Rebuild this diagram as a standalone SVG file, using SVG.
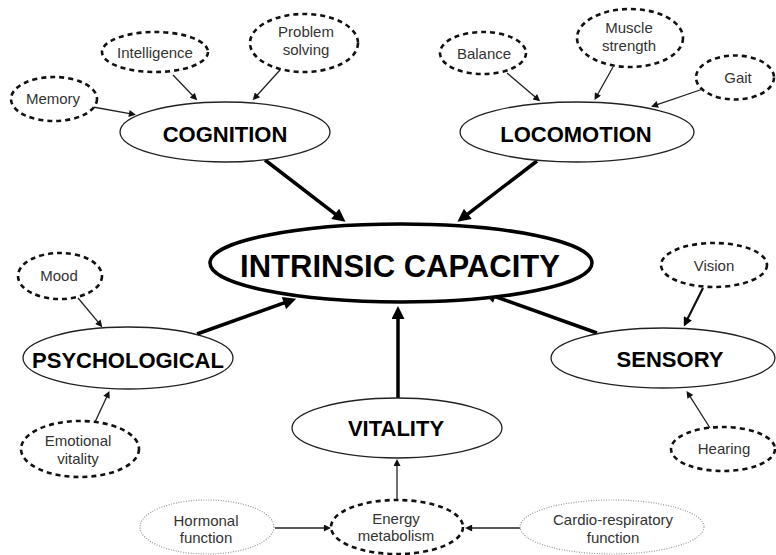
<svg xmlns="http://www.w3.org/2000/svg" width="776" height="555" viewBox="0 0 776 555">
<style>
  .bg{fill:#fff}
  .main{fill:#fff;stroke:#222;stroke-width:1.3}
  .core{fill:#fff;stroke:#000;stroke-width:3.5}
  .sub{fill:#fff;stroke:#111;stroke-width:2.6;stroke-dasharray:5 4}
  .dot{fill:#fff;stroke:#999;stroke-width:1.2;stroke-dasharray:1 1.5}
  .big{font-family:"Liberation Sans",Arial,sans-serif;font-weight:bold;font-size:22px;fill:#000;text-anchor:middle}
  .core-t{font-family:"Liberation Sans",Arial,sans-serif;font-weight:bold;font-size:31px;fill:#000;text-anchor:middle}
  .sm{font-family:"Liberation Sans",Arial,sans-serif;font-size:15px;fill:#333;text-anchor:middle}
  .thin{stroke:#222;stroke-width:1.3;fill:none}
  .med{stroke:#111;stroke-width:2.2;fill:none}
  .thick{stroke:#000;stroke-width:3.5;fill:none}
</style>
<defs>
  <marker id="ah" viewBox="0 0 10 10" markerWidth="9" markerHeight="7" refX="3" refY="5" orient="auto" markerUnits="userSpaceOnUse"><path d="M0,0 L10,5 L0,10 z" fill="#111"/></marker>
  <marker id="ahM" viewBox="0 0 10 10" markerWidth="11" markerHeight="9" refX="3" refY="5" orient="auto" markerUnits="userSpaceOnUse"><path d="M0,0 L10,5 L0,10 z" fill="#000"/></marker>
  <marker id="ahT" viewBox="0 0 10 10" markerWidth="16" markerHeight="13" refX="3" refY="5" orient="auto" markerUnits="userSpaceOnUse"><path d="M0,0 L10,5 L0,10 z" fill="#000"/></marker>
</defs>
<rect class="bg" x="0" y="0" width="776" height="555"/>

<g id="connectors">
  <line class="thick" x1="265" y1="160" x2="338.3" y2="216.3" marker-end="url(#ahT)"/>
  <line class="thick" x1="537" y1="161" x2="464.7" y2="216.3" marker-end="url(#ahT)"/>
  <line class="thick" x1="197" y1="334" x2="287.6" y2="301.7" marker-end="url(#ahT)"/>
  <line class="thick" x1="597" y1="333" x2="491.6" y2="295.3" marker-end="url(#ahT)"/>
  <line class="thick" x1="398" y1="398" x2="398" y2="315" marker-end="url(#ahT)"/>
  <line class="thin" x1="93" y1="107" x2="131.1" y2="113.9" marker-end="url(#ah)"/>
  <line class="thin" x1="173" y1="75" x2="193.8" y2="96.7" marker-end="url(#ah)"/>
  <line class="thin" x1="280" y1="70" x2="256" y2="96.5" marker-end="url(#ah)"/>
  <line class="thin" x1="507" y1="73" x2="536.4" y2="98.1" marker-end="url(#ah)"/>
  <line class="thin" x1="613" y1="67" x2="596.9" y2="95.8" marker-end="url(#ah)"/>
  <line class="thin" x1="703" y1="89" x2="655.7" y2="105.1" marker-end="url(#ah)"/>
  <line class="thin" x1="78" y1="298" x2="99.2" y2="323.4" marker-end="url(#ah)"/>
  <line class="thin" x1="95" y1="422" x2="107.4" y2="395.4" marker-end="url(#ah)"/>
  <line class="med" x1="703" y1="288" x2="686.6" y2="320.8" marker-end="url(#ahM)"/>
  <line class="thin" x1="710" y1="428" x2="689.2" y2="395.1" marker-end="url(#ah)"/>
  <line class="thin" x1="397" y1="499" x2="397" y2="464" marker-end="url(#ah)"/>
  <line class="thin" x1="275" y1="528" x2="326" y2="528" marker-end="url(#ah)"/>
  <line class="thin" x1="521" y1="528" x2="470" y2="528" marker-end="url(#ah)"/>
</g>

<g id="intrinsic-capacity">
  <ellipse class="core" cx="401" cy="263" rx="191" ry="39"/>
  <text class="core-t" x="400" y="277">INTRINSIC CAPACITY</text>
</g>
<g id="cognition">
  <ellipse class="main" cx="225" cy="132" rx="105" ry="30"/>
  <text class="big" x="225" y="142">COGNITION</text>
</g>
<g id="locomotion">
  <ellipse class="main" cx="577" cy="132" rx="117" ry="30"/>
  <text class="big" x="576" y="142">LOCOMOTION</text>
</g>
<g id="psychological">
  <ellipse class="main" cx="128" cy="358" rx="105" ry="31"/>
  <text class="big" x="128" y="368">PSYCHOLOGICAL</text>
</g>
<g id="sensory">
  <ellipse class="main" cx="663" cy="358" rx="112" ry="30"/>
  <text class="big" x="670" y="367">SENSORY</text>
</g>
<g id="vitality">
  <ellipse class="main" cx="397" cy="428" rx="105" ry="30"/>
  <text class="big" x="396" y="436">VITALITY</text>
</g>

<g id="memory">
  <ellipse class="sub" cx="54" cy="99" rx="43" ry="22"/>
  <text class="sm" x="53" y="104">Memory</text>
</g>
<g id="intelligence">
  <ellipse class="sub" cx="155" cy="52" rx="53" ry="20"/>
  <text class="sm" x="155" y="58">Intelligence</text>
</g>
<g id="problem-solving">
  <ellipse class="sub" cx="304" cy="43" rx="54" ry="29"/>
  <text class="sm" x="306" y="37">Problem</text>
  <text class="sm" x="306" y="55">solving</text>
</g>
<g id="balance">
  <ellipse class="sub" cx="483" cy="53" rx="43" ry="21"/>
  <text class="sm" x="484" y="59">Balance</text>
</g>
<g id="muscle-strength">
  <ellipse class="sub" cx="630" cy="38" rx="53" ry="29"/>
  <text class="sm" x="629" y="33">Muscle</text>
  <text class="sm" x="629" y="51">strength</text>
</g>
<g id="gait">
  <ellipse class="sub" cx="735" cy="77.5" rx="39" ry="22"/>
  <text class="sm" x="738" y="83">Gait</text>
</g>
<g id="mood">
  <ellipse class="sub" cx="60" cy="276" rx="42" ry="23"/>
  <text class="sm" x="59" y="281">Mood</text>
</g>
<g id="emotional-vitality">
  <ellipse class="sub" cx="80" cy="449" rx="59" ry="28"/>
  <text class="sm" x="78" y="446">Emotional</text>
  <text class="sm" x="78" y="464">vitality</text>
</g>
<g id="vision">
  <ellipse class="sub" cx="714" cy="265" rx="53" ry="22"/>
  <text class="sm" x="714" y="271">Vision</text>
</g>
<g id="hearing">
  <ellipse class="sub" cx="723" cy="449" rx="52" ry="22"/>
  <text class="sm" x="724" y="454">Hearing</text>
</g>
<g id="energy-metabolism">
  <ellipse class="sub" cx="397" cy="527" rx="66" ry="27"/>
  <text class="sm" x="396" y="524">Energy</text>
  <text class="sm" x="396" y="541">metabolism</text>
</g>
<g id="hormonal-function">
  <ellipse class="dot" cx="207" cy="527" rx="67" ry="27"/>
  <text class="sm" x="206" y="526">Hormonal</text>
  <text class="sm" x="206" y="543">function</text>
</g>
<g id="cardio-respiratory-function">
  <ellipse class="dot" cx="612" cy="527" rx="92" ry="27"/>
  <text class="sm" x="613" y="525">Cardio-respiratory</text>
  <text class="sm" x="613" y="543">function</text>
</g>
</svg>
